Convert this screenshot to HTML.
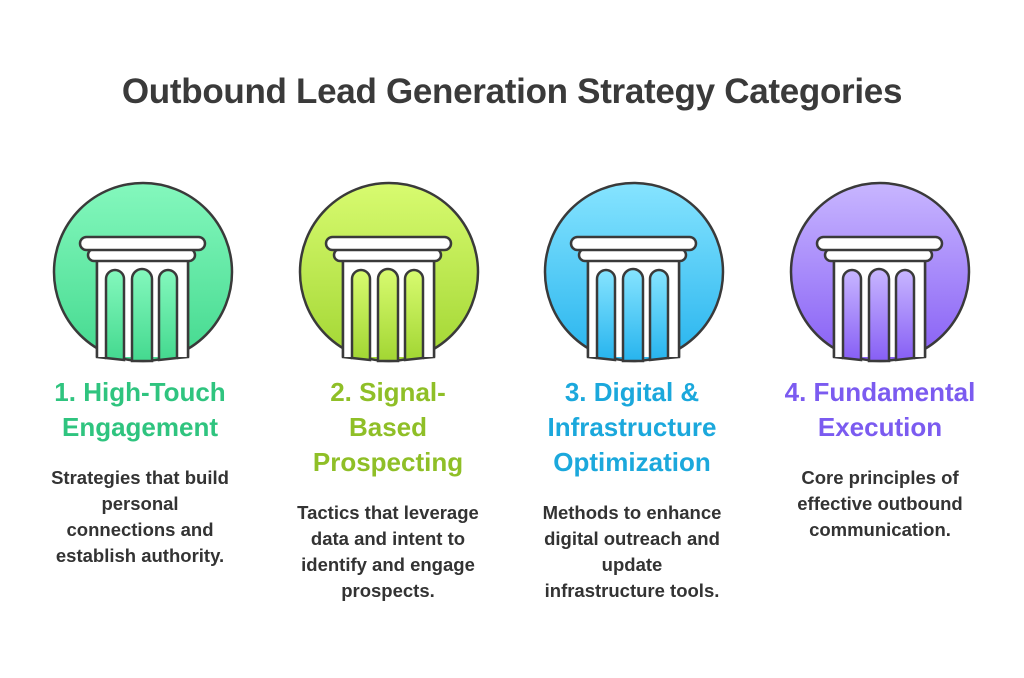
<!DOCTYPE html><html><head><style>
body{margin:0;width:1024px;height:678px;background:#fff;font-family:"Liberation Sans",sans-serif;position:relative;overflow:hidden}
h1{position:absolute;top:72px;left:0;width:1024px;text-align:center;margin:0;font-size:35px;color:#3a3a3a;font-weight:bold;letter-spacing:-0.3px}
.col{position:absolute;width:240px;text-align:center}
.h{font-size:26px;font-weight:bold;line-height:35px;position:absolute;top:375px;width:240px;left:0;white-space:nowrap}
.d{font-size:18.5px;font-weight:bold;line-height:26px;color:#333;position:absolute;width:240px;left:0;white-space:nowrap}
svg{position:absolute;left:0;top:0}
</style></head><body>
<h1>Outbound Lead Generation Strategy Categories</h1>
<svg width="1024" height="678">
<defs>
<linearGradient id="g1" x1="0" y1="0" x2="0" y2="1"><stop offset="0" stop-color="#84f8bd"/><stop offset="1" stop-color="#44d98f"/></linearGradient>
<linearGradient id="g2" x1="0" y1="0" x2="0" y2="1"><stop offset="0" stop-color="#d8fb70"/><stop offset="1" stop-color="#a2d633"/></linearGradient>
<linearGradient id="g3" x1="0" y1="0" x2="0" y2="1"><stop offset="0" stop-color="#86e4ff"/><stop offset="1" stop-color="#27b4ee"/></linearGradient>
<linearGradient id="g4" x1="0" y1="0" x2="0" y2="1"><stop offset="0" stop-color="#c8b6ff"/><stop offset="1" stop-color="#875ff5"/></linearGradient>
<g id="p" stroke="#3a3a3a" stroke-width="2.5">
<path d="M97 260 V357 L106 358 M188 260 V357 L177 358" fill="#fff"/>
<path d="M97 260 V357 H188 V260z" fill="#fff" stroke="none"/>
<line x1="97" y1="260" x2="97" y2="357"/><line x1="188" y1="260" x2="188" y2="357"/>
<rect x="88" y="249" width="107" height="12" rx="6" fill="#fff"/>
<rect x="80" y="237" width="125" height="13" rx="6.5" fill="#fff"/>
</g>
</defs>
<g>
<circle cx="143" cy="272" r="89" fill="url(#g1)" stroke="#3a3a3a" stroke-width="2.5"/>
<use href="#p"/>
<g fill="url(#g1)" stroke="#3a3a3a" stroke-width="2.5"><path d="M106 358V279a9 9 0 0 1 18 0V360z"/><path d="M132 361V279a10 10 0 0 1 20 0V361z"/><path d="M159 360V279a9 9 0 0 1 18 0V358z"/></g>
</g>
<g transform="translate(246,0)">
<circle cx="143" cy="272" r="89" fill="url(#g2)" stroke="#3a3a3a" stroke-width="2.5"/>
<use href="#p"/>
<g fill="url(#g2)" stroke="#3a3a3a" stroke-width="2.5"><path d="M106 358V279a9 9 0 0 1 18 0V360z"/><path d="M132 361V279a10 10 0 0 1 20 0V361z"/><path d="M159 360V279a9 9 0 0 1 18 0V358z"/></g>
</g>
<g transform="translate(491,0)">
<circle cx="143" cy="272" r="89" fill="url(#g3)" stroke="#3a3a3a" stroke-width="2.5"/>
<use href="#p"/>
<g fill="url(#g3)" stroke="#3a3a3a" stroke-width="2.5"><path d="M106 358V279a9 9 0 0 1 18 0V360z"/><path d="M132 361V279a10 10 0 0 1 20 0V361z"/><path d="M159 360V279a9 9 0 0 1 18 0V358z"/></g>
</g>
<g transform="translate(737,0)">
<circle cx="143" cy="272" r="89" fill="url(#g4)" stroke="#3a3a3a" stroke-width="2.5"/>
<use href="#p"/>
<g fill="url(#g4)" stroke="#3a3a3a" stroke-width="2.5"><path d="M106 358V279a9 9 0 0 1 18 0V360z"/><path d="M132 361V279a10 10 0 0 1 20 0V361z"/><path d="M159 360V279a9 9 0 0 1 18 0V358z"/></g>
</g>
</svg>
<div class="col" style="left:20px;top:0">
<div class="h" style="color:#2fc47f">1. High-Touch<br>Engagement</div>
<div class="d" style="top:465px">Strategies that build<br>personal<br>connections and<br>establish authority.</div></div>
<div class="col" style="left:268px;top:0">
<div class="h" style="color:#8fbf27">2. Signal-<br>Based<br>Prospecting</div>
<div class="d" style="top:500px">Tactics that leverage<br>data and intent to<br>identify and engage<br>prospects.</div></div>
<div class="col" style="left:512px;top:0">
<div class="h" style="color:#1ba8dc">3. Digital &amp;<br>Infrastructure<br>Optimization</div>
<div class="d" style="top:500px">Methods to enhance<br>digital outreach and<br>update<br>infrastructure tools.</div></div>
<div class="col" style="left:760px;top:0">
<div class="h" style="color:#7b5bf0">4. Fundamental<br>Execution</div>
<div class="d" style="top:465px">Core principles of<br>effective outbound<br>communication.</div></div>
</body></html>
